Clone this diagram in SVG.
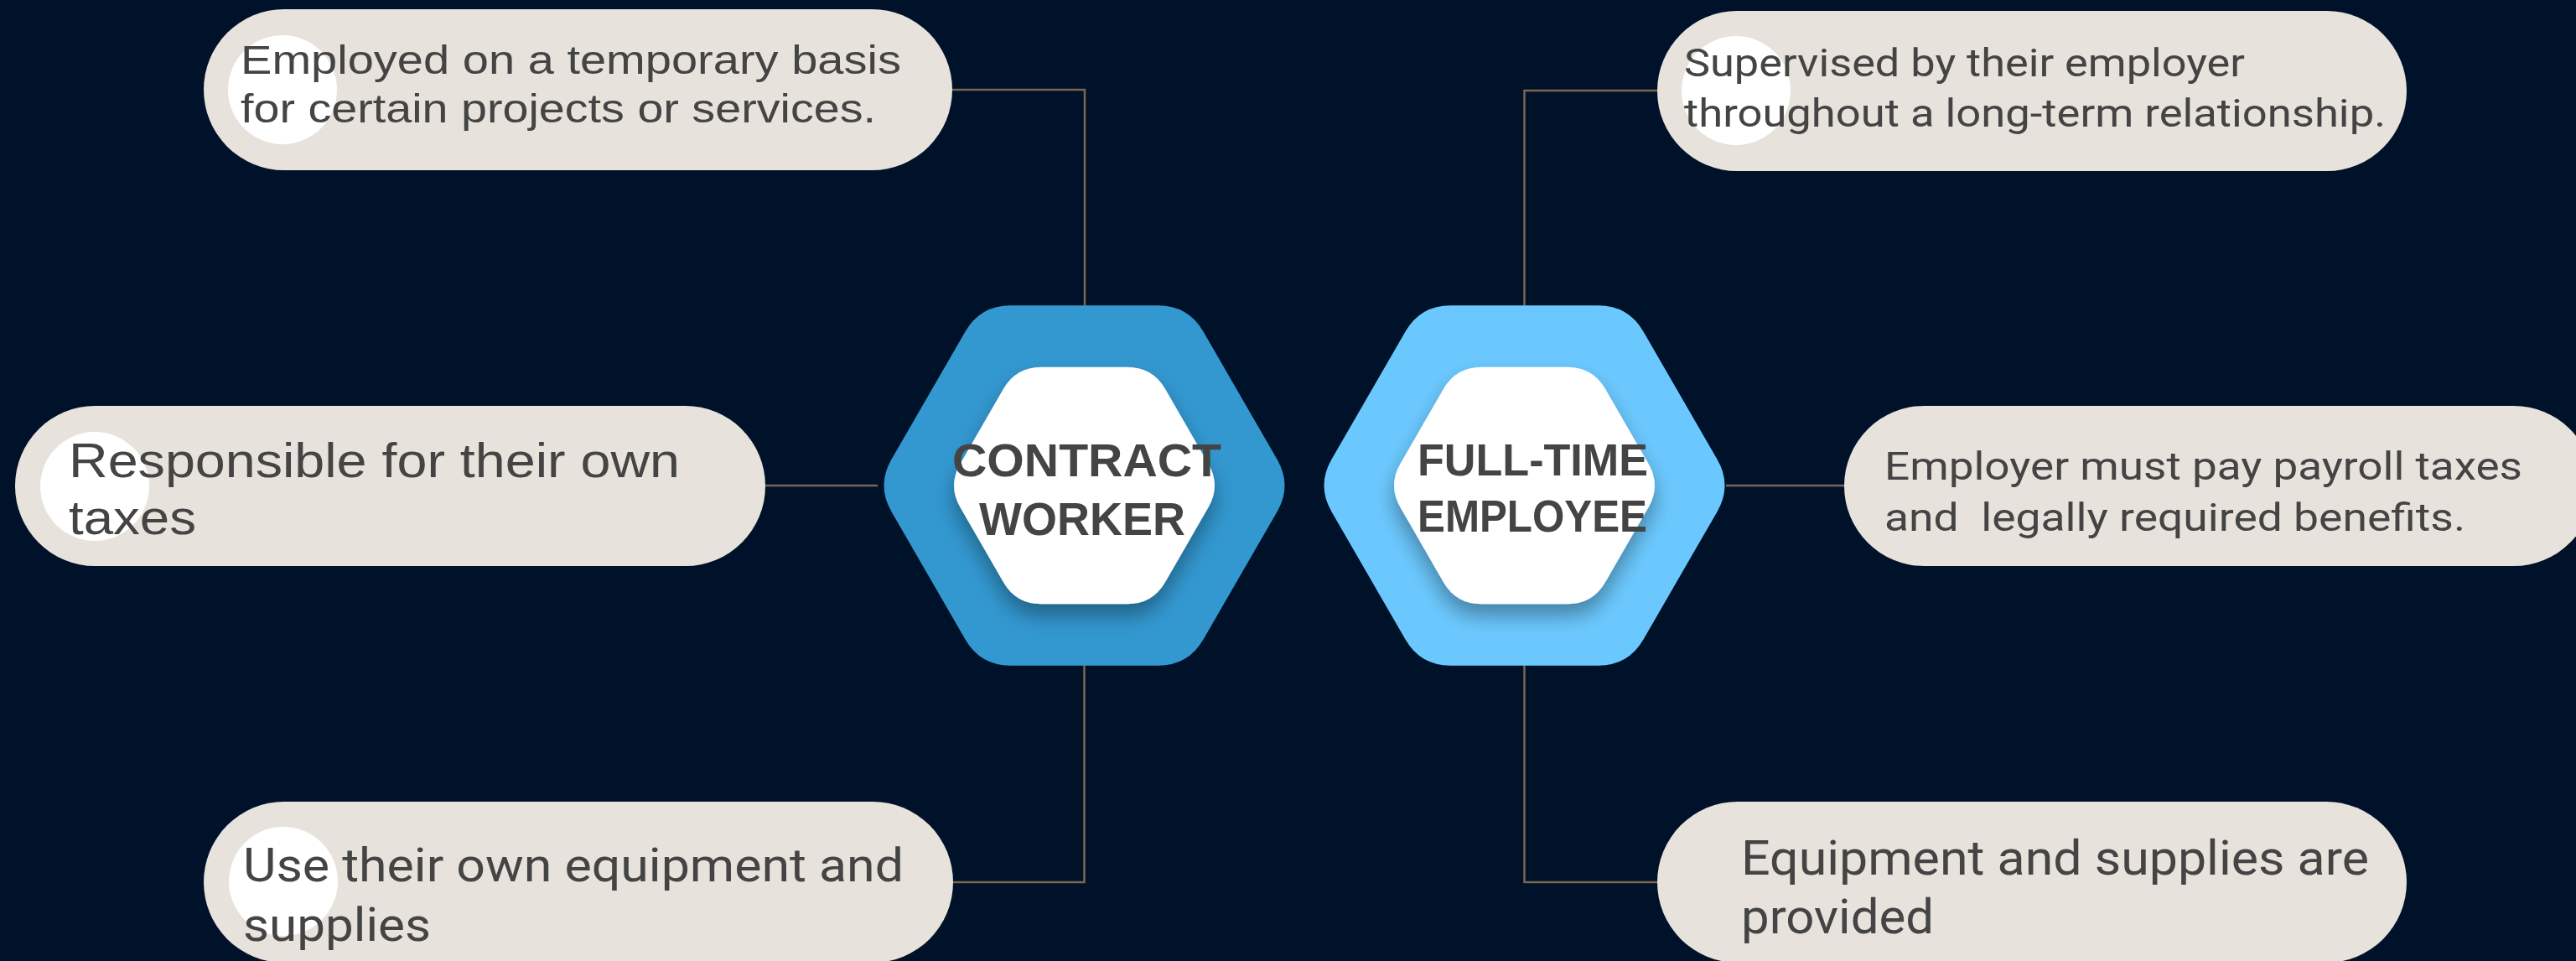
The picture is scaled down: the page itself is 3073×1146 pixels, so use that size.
<svg xmlns="http://www.w3.org/2000/svg" width="3073" height="1146" viewBox="0 0 3073 1146">
<defs>
<style>
.pill{fill:#e8e2dc}
.dot{fill:#ffffff}
.conn{fill:none;stroke:#7a6552;stroke-width:2.5}
.t1{font-family:"Liberation Sans","Open Sans",sans-serif;fill:#444444}
.t2{font-family:"Roboto","Liberation Sans",sans-serif;fill:#444444}
.hx{font-family:"Liberation Sans","DejaVu Sans",sans-serif;font-weight:bold;fill:#444444}
</style>
<path id="hexOuter" d="M-230,-31.2 L-142,-183.6 Q-124,-214.8 -88,-214.8 L88,-214.8 Q124,-214.8 142,-183.6 L230,-31.2 Q248,0 230,31.2 L142,183.6 Q124,214.8 88,214.8 L-88,214.8 Q-124,214.8 -142,183.6 L-230,31.2 Q-248,0 -230,-31.2 Z"/>
<path id="hexInner" d="M-148,-26 L-96.5,-115.2 Q-81.5,-141.2 -51.5,-141.2 L51.5,-141.2 Q81.5,-141.2 96.5,-115.2 L148,-26 Q163,0 148,26 L96.5,115.2 Q81.5,141.2 51.5,141.2 L-51.5,141.2 Q-81.5,141.2 -96.5,115.2 L-148,26 Q-163,0 -148,-26 Z"/>
<filter id="sh" x="-30%" y="-30%" width="160%" height="170%">
<feDropShadow dx="0" dy="14" stdDeviation="12" flood-color="#000000" flood-opacity="0.35"/>
</filter>
</defs>
<rect x="0" y="0" width="3073" height="1146" fill="#001229"/>

<g id="connectors">
<path class="conn" d="M1136,107 H1294 V365"/>
<path class="conn" d="M913,579 H1047"/>
<path class="conn" d="M1293.5,793 V1052 H1137"/>
<path class="conn" d="M1977,108 H1818.5 V365"/>
<path class="conn" d="M2059,579 H2200"/>
<path class="conn" d="M1818.5,793 V1052 H1977"/>
</g>

<g id="hex-contract">
<use href="#hexOuter" transform="translate(1293.5,579)" fill="#3398d0"/>
<use href="#hexInner" transform="translate(1293.5,579)" fill="#ffffff" filter="url(#sh)"/>
<text class="hx" x="1136" y="568" font-size="56" textLength="321" lengthAdjust="spacingAndGlyphs">CONTRACT</text>
<text class="hx" x="1168" y="638" font-size="56" textLength="246" lengthAdjust="spacingAndGlyphs">WORKER</text>
</g>

<g id="hex-fulltime">
<use href="#hexOuter" transform="translate(1818.5,579)" fill="#6bc8fe"/>
<use href="#hexInner" transform="translate(1818.5,579)" fill="#ffffff" filter="url(#sh)"/>
<text class="hx" x="1691" y="567" font-size="53" textLength="275" lengthAdjust="spacingAndGlyphs">FULL-TIME</text>
<text class="hx" x="1691" y="634" font-size="53" textLength="274" lengthAdjust="spacingAndGlyphs">EMPLOYEE</text>
</g>

<g id="pill-temporary">
<rect class="pill" x="243" y="11" width="893" height="192" rx="96"/>
<circle class="dot" cx="337" cy="107" r="65"/>
<text class="t1" x="287" y="88" font-size="49" textLength="788" lengthAdjust="spacingAndGlyphs">Employed on a temporary basis</text>
<text class="t1" x="287" y="146" font-size="49" textLength="758" lengthAdjust="spacingAndGlyphs">for certain projects or services.</text>
</g>

<g id="pill-taxes">
<rect class="pill" x="18" y="484" width="895" height="191" rx="95.5"/>
<circle class="dot" cx="113" cy="580" r="65"/>
<text class="t1" x="82" y="569" font-size="58" textLength="729" lengthAdjust="spacingAndGlyphs">Responsible for their own</text>
<text class="t1" x="82" y="637" font-size="58" textLength="152" lengthAdjust="spacingAndGlyphs">taxes</text>
</g>

<g id="pill-own-equipment">
<rect class="pill" x="243" y="956" width="894" height="192" rx="96"/>
<circle class="dot" cx="338" cy="1051" r="65"/>
<text class="t2" x="290" y="1051" font-size="55" textLength="788" lengthAdjust="spacingAndGlyphs">Use their own equipment and</text>
<text class="t2" x="290" y="1122" font-size="55" textLength="224" lengthAdjust="spacingAndGlyphs">supplies</text>
</g>

<g id="pill-supervised">
<rect class="pill" x="1977" y="13" width="894" height="191" rx="95.5"/>
<circle class="dot" cx="2071" cy="108" r="65"/>
<text class="t2" x="2009" y="91" font-size="46" textLength="669" lengthAdjust="spacingAndGlyphs">Supervised by their employer</text>
<text class="t2" x="2009" y="151" font-size="46" textLength="837" lengthAdjust="spacingAndGlyphs">throughout a long-term relationship.</text>
</g>

<g id="pill-payroll">
<rect class="pill" x="2200" y="484" width="894" height="191" rx="95.5"/>
<text class="t2" x="2248" y="572" font-size="47" textLength="761" lengthAdjust="spacingAndGlyphs">Employer must pay payroll taxes</text>
<text class="t2" x="2248" y="633" font-size="47" textLength="693" lengthAdjust="spacingAndGlyphs" xml:space="preserve">and  legally required benefits.</text>
</g>

<g id="pill-provided">
<rect class="pill" x="1977" y="956" width="894" height="192" rx="96"/>
<text class="t2" x="2077" y="1043" font-size="58" textLength="749" lengthAdjust="spacingAndGlyphs">Equipment and supplies are</text>
<text class="t2" x="2077" y="1113" font-size="58" textLength="230" lengthAdjust="spacingAndGlyphs">provided</text>
</g>
</svg>
